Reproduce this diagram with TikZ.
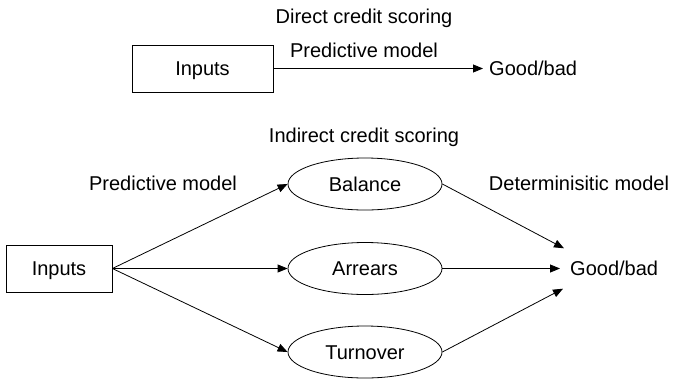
\documentclass[tikz,border=0pt]{standalone}
\usepackage{fontspec}
\setmainfont{Liberation Sans}
\usetikzlibrary{arrows.meta,shapes.geometric}
\begin{document}
\begin{tikzpicture}[x=1pt,y=-1pt,
  every node/.style={font=\fontsize{20}{24}\selectfont, text height=14.5pt, text depth=0pt, inner sep=0pt},
  box/.style={draw, line width=0.8pt, minimum height=47pt},
  oval/.style={draw, ellipse, line width=0.8pt, minimum width=154pt, minimum height=52pt},
  lbl/.style={anchor=base},
  arr/.style={line width=0.8pt, -{Triangle[length=10pt,width=8pt]}}]
\useasboundingbox (0,0) rectangle (682,381);
% direct
\node[lbl] (t1) at (364,23) {Direct credit scoring};
\node[lbl] (p1) at (364,57) {Predictive model};
\node[box, minimum width=141pt] (in1) at (202.5,68.5) {Inputs};
\node[anchor=west, inner xsep=6pt] (gb1) at (483,68.5) {Good/bad};
\draw[arr] (in1) -- (gb1);
% indirect
\node[lbl] (t2) at (364,142) {Indirect credit scoring};
\node[lbl] (p2) at (163,190) {Predictive model};
\node[lbl] (d2) at (579,190) {Determinisitic model};
\node[box, minimum width=106pt] (in2) at (59,268.5) {Inputs};
\node[oval] (bal) at (365,184) {Balance};
\node[oval] (arrs) at (365,268.5) {Arrears};
\node[oval] (tur) at (365,352) {Turnover};
\node[anchor=west, inner xsep=10pt, minimum height=40pt] (gb2) at (560,268.5) {Good/bad};
\draw[arr] (in2.east) -- (bal.west);
\draw[arr] (in2.east) -- (arrs.west);
\draw[arr] (in2.east) -- (tur.west);
\draw[arr] (bal.east) -- ([xshift=4pt]gb2.north west);
\draw[arr] (arrs.east) -- (gb2.west);
\draw[arr] (tur.east) -- ([xshift=3pt]gb2.south west);
\end{tikzpicture}
\end{document}
